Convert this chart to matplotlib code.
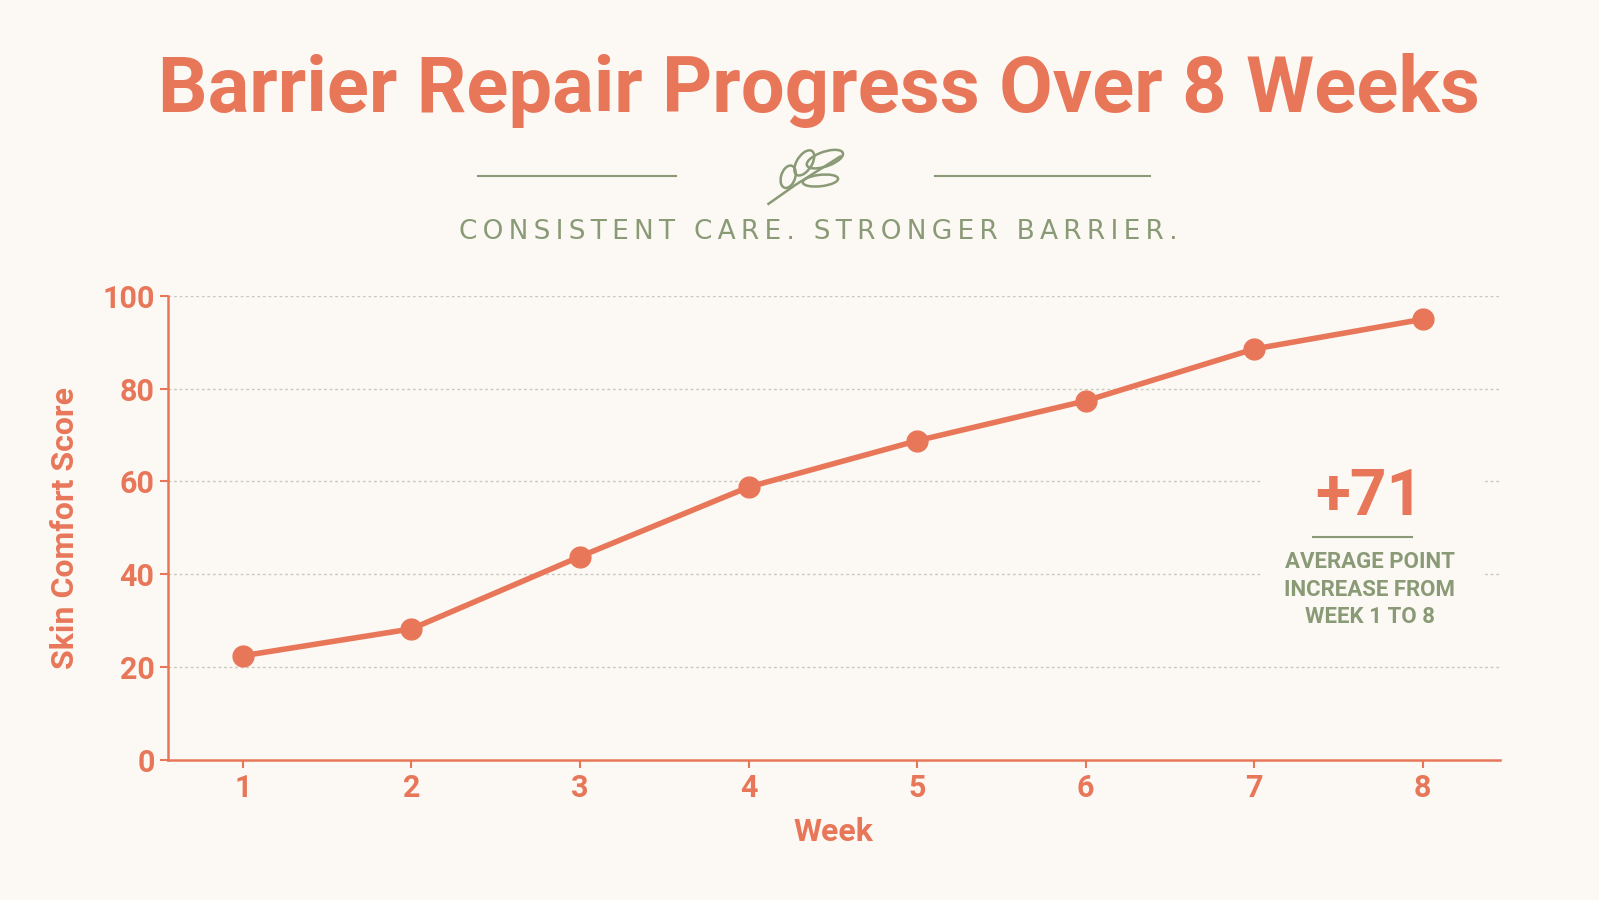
import matplotlib
matplotlib.use("Agg")
import matplotlib.pyplot as plt
from matplotlib.patches import Ellipse, FancyBboxPatch
import numpy as np

weeks = [1, 2, 3, 4, 5, 6, 7, 8]
scores = [22.4, 28.2, 43.8, 58.8, 68.8, 77.4, 88.6, 95.0]
yticks = [0, 20, 40, 60, 80, 100]
title = "Barrier Repair Progress Over 8 Weeks"
subtitle = "CONSISTENT CARE. STRONGER BARRIER."
big_note = "+71"
note = "AVERAGE POINT\nINCREASE FROM\nWEEK 1 TO 8"

ORANGE = "#E8775A"
GREEN = "#8A9A76"
BG = "#FCF9F4"
plt.rcParams['font.family'] = ['Roboto', 'DejaVu Sans']

fig = plt.figure(figsize=(15.99, 9), dpi=100, facecolor=BG)
ax = fig.add_axes([0.105, 0.156, 0.833, 0.515], facecolor=BG)
ax.set_xlim(0.555, 8.457)
ax.set_ylim(0, 100)
for y in yticks[1:]:
    ax.axhline(y, color="#C9C9BE", lw=1, ls=(0, (2, 2)), zorder=0)
ax.plot(weeks, scores, color=ORANGE, lw=4, marker="o", ms=15, zorder=3, solid_capstyle="round")
ax.set_xticks(weeks)
ax.set_yticks(yticks)
ax.tick_params(colors=ORANGE, labelsize=22, width=1.5, length=6)
for lab in ax.get_xticklabels() + ax.get_yticklabels():
    lab.set_fontweight("bold")
for s in ["top", "right"]:
    ax.spines[s].set_visible(False)
for s in ["left", "bottom"]:
    ax.spines[s].set_color(ORANGE)
    ax.spines[s].set_linewidth(1.8)
ax.set_xlabel("Week", color=ORANGE, fontsize=23, fontweight="bold", labelpad=10)
ax.set_ylabel("Skin Comfort Score", color=ORANGE, fontsize=23, fontweight="bold", labelpad=16)

ax.add_patch(FancyBboxPatch((7.05, 26), 1.3, 38, boxstyle="square,pad=0", fc=BG, ec="none", zorder=1))
fig.text(0.8565, 0.447, big_note, color=ORANGE, fontsize=46, fontweight="bold", ha="center", va="center")
fig.add_artist(plt.Line2D([0.821, 0.883], [0.403, 0.403], color=GREEN, lw=1.5))
fig.text(0.8565, 0.345, note, color=GREEN, fontsize=16, fontweight="bold", ha="center", va="center", linespacing=1.3)

fig.text(0.512, 0.9, title, color=ORANGE, fontsize=56, fontweight="bold", ha="center", va="center")
fig.text(0.512, 0.742, "\u2009".join(subtitle), color=GREEN, fontsize=19, fontweight="medium",
         ha="center", va="center", family=['DejaVu Sans'])
fig.add_artist(plt.Line2D([0.299, 0.423], [0.804, 0.804], color=GREEN, lw=1.5))
fig.add_artist(plt.Line2D([0.585, 0.719], [0.804, 0.804], color=GREEN, lw=1.5))

la = fig.add_axes([0.475, 0.77, 0.056, 0.07], facecolor="none")
la.set_xlim(0, 10); la.set_ylim(0, 10); la.axis("off")
la.plot([1, 4, 9], [0.5, 3.5, 8], color=GREEN, lw=1.8)
for (cx, cy, w, h, a) in [(7.3, 7.6, 4.5, 2.2, 30), (5.0, 7.0, 4.2, 1.8, 70), (6.8, 4.2, 4.0, 1.8, 10), (3.2, 4.8, 3.6, 1.6, 80)]:
    la.add_patch(Ellipse((cx, cy), w, h, angle=a, fc="none", ec=GREEN, lw=1.8))

fig.savefig("out.png", dpi=100, facecolor=BG)
